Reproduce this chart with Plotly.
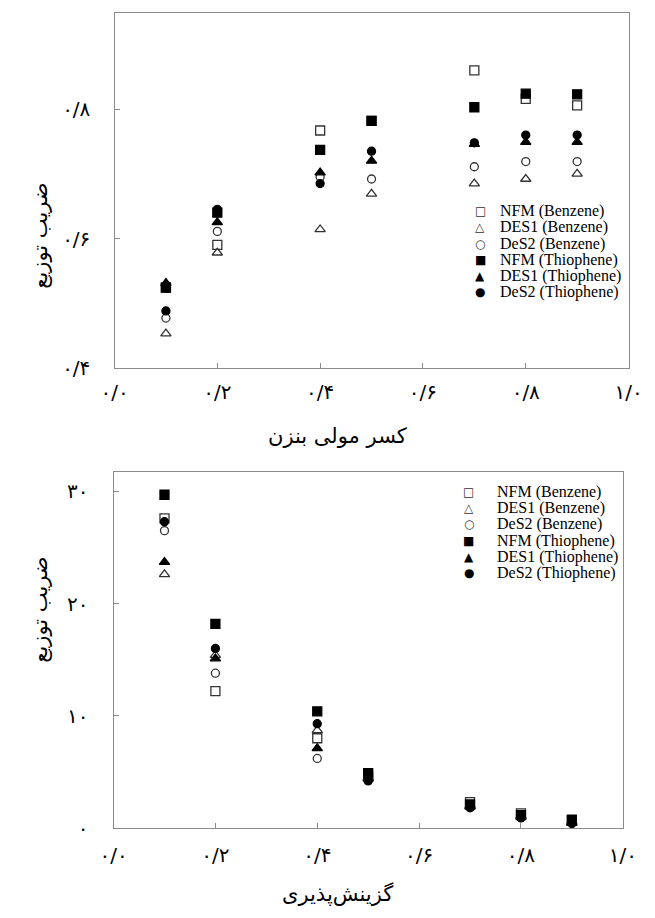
import plotly.graph_objects as go

# ---------------- data ----------------
x_vals = [0.1, 0.2, 0.4, 0.5, 0.7, 0.8, 0.9]

series_names = ["NFM (Benzene)", "DES1 (Benzene)", "DeS2 (Benzene)",
                "NFM (Thiophene)", "DES1 (Thiophene)", "DeS2 (Thiophene)"]
legend_glyphs = ["□", "△", "○", "■", "▲", "●"]

# top panel: distribution coefficient vs benzene mole fraction
top_nfm_b = [0.524, 0.590, 0.767, 0.782, 0.860, 0.816, 0.806]
top_des1_b = [0.453, 0.578, 0.614, 0.669, 0.685, 0.692, 0.700]
top_des2_b = [0.477, 0.611, 0.695, 0.692, 0.711, 0.719, 0.719]
top_nfm_t = [0.524, 0.640, 0.737, 0.782, 0.803, 0.824, 0.823]
top_des1_t = [0.531, 0.625, 0.702, 0.720, 0.746, 0.749, 0.749]
top_des2_t = [0.488, 0.645, 0.685, 0.735, 0.748, 0.760, 0.760]

# bottom panel: selectivity
bot_nfm_b = [27.6, 12.2, 8.0, 4.6, 2.3, 1.3, 0.7]
bot_des1_b = [22.6, 15.4, 8.7, 4.5, 2.0, 1.1, 0.55]
bot_des2_b = [26.5, 13.8, 6.2, 4.3, 1.9, 1.0, 0.5]
bot_nfm_t = [29.7, 18.2, 10.4, 4.9, 2.1, 1.15, 0.75]
bot_des1_t = [23.7, 15.1, 7.1, 4.4, 1.9, 1.0, 0.45]
bot_des2_t = [27.3, 16.0, 9.3, 4.2, 1.8, 0.9, 0.4]

x_tickvals = [0.0, 0.2, 0.4, 0.6, 0.8, 1.0]
x_ticktext = ["۰/۰", "۰/۲", "۰/۴", "۰/۶", "۰/۸", "۱/۰"]
top_y_tickvals = [0.4, 0.6, 0.8]
top_y_ticktext = ["۰/۴", "۰/۶", "۰/۸"]
bot_y_tickvals = [0, 10, 20, 30]
bot_y_ticktext = ["۰", "۱۰", "۲۰", "۳۰"]

x_title_top = "کسر مولی بنزن"
x_title_bot = "گزینش\u200cپذیری"
y_title = "ضریب توزیع"

# ---------------- styles ----------------
symbols = ["square-open", "triangle-up-open", "circle-open",
           "square", "triangle-up", "circle"]
sizes = [9, 9, 8, 9, 9, 8]
colors = ["#333333", "#333333", "#333333", "black", "black", "black"]

top_series = [top_nfm_b, top_des1_b, top_des2_b, top_nfm_t, top_des1_t, top_des2_t]
bot_series = [bot_nfm_b, bot_des1_b, bot_des2_b, bot_nfm_t, bot_des1_t, bot_des2_t]

fig = go.Figure()
for name, ys, sym, sz, col in zip(series_names, top_series, symbols, sizes, colors):
    fig.add_trace(go.Scatter(
        x=x_vals, y=ys, mode="markers", name=name, showlegend=False,
        marker=dict(symbol=sym, size=sz, color=col, line=dict(width=1.3, color=col)),
        xaxis="x", yaxis="y"))
for name, ys, sym, sz, col in zip(series_names, bot_series, symbols, sizes, colors):
    fig.add_trace(go.Scatter(
        x=x_vals, y=ys, mode="markers", name=name, showlegend=False,
        marker=dict(symbol=sym, size=sz, color=col, line=dict(width=1.3, color=col)),
        xaxis="x2", yaxis="y2"))

W, H = 655, 918


def px(xp):  # page x (px) -> paper fraction
    return xp / W


def py(yp):  # page y (px, from top) -> paper fraction
    return 1 - yp / H


tick_font = dict(family="DejaVu Sans", size=20, color="black")
axis_common = dict(showline=True, mirror=True, linecolor="#8a8a8a", linewidth=1.3,
                   ticks="inside", ticklen=5, tickcolor="#8a8a8a", tickwidth=1,
                   showgrid=False, zeroline=False, tickfont=tick_font,
                   ticklabeloverflow="allow")

annotations = [
    dict(text=x_title_top, x=px(337.5), y=py(442)),
    dict(text=x_title_bot, x=px(338), y=py(906)),
    dict(text=y_title, x=px(27), y=py(239), textangle=-90),
    dict(text=y_title, x=px(27), y=py(618), textangle=-90),
]
for a in annotations:
    a.update(xref="paper", yref="paper", showarrow=False, xanchor="center",
             yanchor="middle", font=dict(family="DejaVu Sans", size=21, color="black"))

# hand-placed legend blocks (one per panel): symbol x, text x, first row y, row gap
legend_blocks = [
    (487, 506, 214.0, 16.4),
    (475, 502, 498.5, 16.4),
]
for sx, tx, y0, gap in legend_blocks:
    for i, (name, glyph, col) in enumerate(zip(series_names, legend_glyphs, colors)):
        yy = py(y0 + i * gap)
        annotations.append(dict(text=glyph, x=px(sx), y=yy, xref="paper", yref="paper",
                                showarrow=False, xanchor="center", yanchor="middle",
                                font=dict(family="DejaVu Sans", size=12, color=col)))
        annotations.append(dict(text=name, x=px(tx), y=yy, xref="paper", yref="paper",
                                showarrow=False, xanchor="left", yanchor="middle",
                                font=dict(family="Liberation Serif", size=16, color="black")))

fig.update_layout(
    width=W, height=H,
    margin=dict(l=0, r=0, t=0, b=0),
    paper_bgcolor="white", plot_bgcolor="white",
    showlegend=False,
    xaxis=dict(domain=[px(105), px(642)], range=[0, 1.0], anchor="y",
               tickvals=x_tickvals, ticktext=x_ticktext, ticklabelstandoff=6,
               **axis_common),
    yaxis=dict(domain=[py(372.7), py(13)], range=[0.4, 0.949], anchor="x",
               tickvals=top_y_tickvals, ticktext=top_y_ticktext, ticklabelstandoff=19,
               **axis_common),
    xaxis2=dict(domain=[px(104), px(636)], range=[0, 1.0], anchor="y2",
                tickvals=x_tickvals, ticktext=x_ticktext, ticklabelstandoff=9,
                **axis_common),
    yaxis2=dict(domain=[py(839), py(478)], range=[0, 31.75], anchor="x2",
                tickvals=bot_y_tickvals, ticktext=bot_y_ticktext, ticklabelstandoff=20,
                **axis_common),
    annotations=annotations,
)

fig.write_html(
    "out.html",
    config={"displayModeBar": False},
    post_script="document.body.style.margin='0';document.body.style.overflow='hidden';",
)
